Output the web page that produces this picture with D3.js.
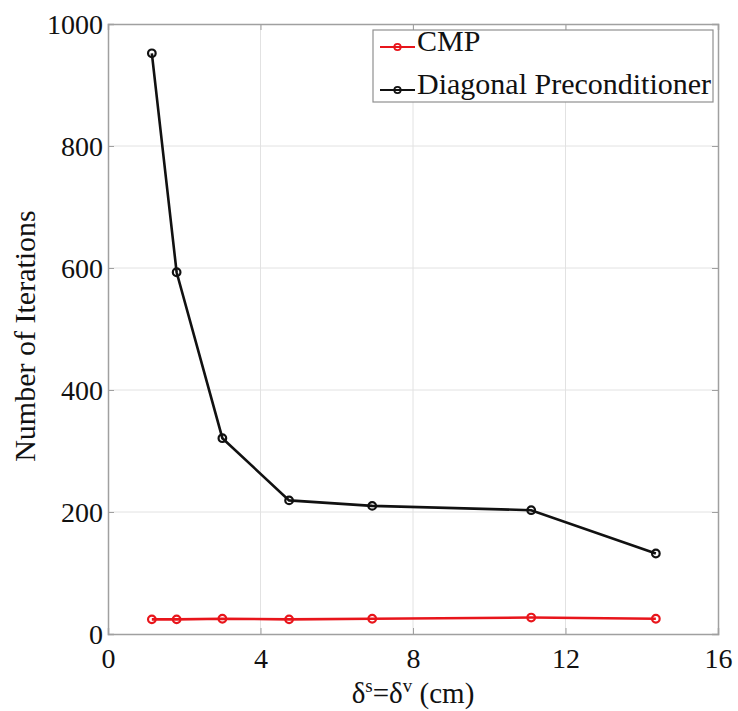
<!DOCTYPE html>
<html><head><meta charset="utf-8">
<script src="https://cdn.jsdelivr.net/npm/d3@7"></script>
<style>body{margin:0;background:#fff}svg{display:block}</style>
</head><body>
<script>
const xValues = [1.15, 1.8, 3.0, 4.75, 6.93, 11.1, 14.37];
const cmpValues = [24, 24, 25, 24, 25, 27, 25];
const diagValues = [952, 593, 321, 219, 210, 203, 132];
const xTicks = [0, 4, 8, 12, 16];
const yTicks = [0, 200, 400, 600, 800, 1000];
const seriesNames = ["CMP", "Diagonal Preconditioner"];
const seriesColors = ["#e8151b", "#111111"];

const W = 738, H = 711;
const L = 108, R = 718, T = 24, B = 634;
const font = "'Liberation Serif', 'Times New Roman', serif";

const svg = d3.select("body").append("svg").attr("width", W).attr("height", H);
const x = d3.scaleLinear().domain([0, 16]).range([L, R]);
const y = d3.scaleLinear().domain([0, 1000]).range([B, T]);

// grid
svg.append("g").selectAll("line").data(xTicks.slice(1, -1)).join("line")
  .attr("x1", d => x(d)).attr("x2", d => x(d)).attr("y1", T).attr("y2", B)
  .attr("stroke", "#e2e2e2").attr("stroke-width", 1);
svg.append("g").selectAll("line").data(yTicks.slice(1, -1)).join("line")
  .attr("y1", d => y(d)).attr("y2", d => y(d)).attr("x1", L).attr("x2", R)
  .attr("stroke", "#e2e2e2").attr("stroke-width", 1);

// axes (ticks inward)
const fmt = d3.format("d");
const ax = svg.append("g").attr("transform", `translate(0,${B})`)
  .call(d3.axisBottom(x).tickValues(xTicks).tickFormat(fmt).tickSize(-6).tickPadding(14));
const ay = svg.append("g").attr("transform", `translate(${L},0)`)
  .call(d3.axisLeft(y).tickValues(yTicks).tickFormat(fmt).tickSize(-6).tickPadding(5));
const axt = svg.append("g").attr("transform", `translate(0,${T})`)
  .call(d3.axisTop(x).tickValues(xTicks).tickSize(-6).tickFormat(""));
const ayr = svg.append("g").attr("transform", `translate(${R},0)`)
  .call(d3.axisRight(y).tickValues(yTicks).tickSize(-6).tickFormat(""));
[ax, ay, axt, ayr].forEach(g => {
  g.select(".domain").attr("stroke", "#a0a0a0").attr("stroke-width", 1.5);
  g.selectAll(".tick line").attr("stroke", "#a0a0a0");
  g.selectAll("text").attr("font-family", font).attr("font-size", 28).attr("fill", "#111");
});
ax.selectAll("text").attr("dy", "0.72em");
ay.selectAll("text").attr("dy", "0.35em");

// lines
const line = d3.line().x((d, i) => x(xValues[i])).y(d => y(d));
[cmpValues, diagValues].forEach((vals, k) => {
  svg.append("path").datum(vals).attr("d", line)
    .attr("fill", "none").attr("stroke", seriesColors[k]).attr("stroke-width", 2.6);
  svg.append("g").selectAll("circle").data(vals).join("circle")
    .attr("cx", (d, i) => x(xValues[i])).attr("cy", d => y(d)).attr("r", 3.8)
    .attr("fill", "none").attr("stroke", seriesColors[k]).attr("stroke-width", 2.2);
});

// legend
const lg = svg.append("g");
lg.append("rect").attr("x", 373).attr("y", 30).attr("width", 340).attr("height", 72)
  .attr("fill", "#fff").attr("stroke", "#909090").attr("stroke-width", 1.2);
seriesNames.forEach((n, k) => {
  const cy = 47 + k * 43;
  lg.append("line").attr("x1", 380).attr("x2", 415).attr("y1", cy).attr("y2", cy)
    .attr("stroke", seriesColors[k]).attr("stroke-width", 2);
  lg.append("circle").attr("cx", 397.5).attr("cy", cy).attr("r", 3.2)
    .attr("fill", "none").attr("stroke", seriesColors[k]).attr("stroke-width", 1.8);
  lg.append("text").attr("x", 417).attr("y", cy + 4)
    .attr("font-family", font).attr("font-size", 30).attr("fill", "#111").text(n);
});

// axis labels
svg.append("text").attr("transform", `translate(35,336) rotate(-90)`)
  .attr("text-anchor", "middle").attr("font-family", font).attr("font-size", 30)
  .attr("fill", "#111").text("Number of Iterations");
const xl = svg.append("text").attr("x", (L + R) / 2).attr("y", 703)
  .attr("text-anchor", "middle").attr("font-family", font).attr("font-size", 29).attr("fill", "#111");
xl.append("tspan").text("δ");
xl.append("tspan").attr("font-size", 19).attr("dy", -11).text("s");
xl.append("tspan").attr("dy", 11).text("=δ");
xl.append("tspan").attr("font-size", 19).attr("dy", -11).text("v");
xl.append("tspan").attr("dy", 11).text(" (cm)");
</script>
</body></html>
